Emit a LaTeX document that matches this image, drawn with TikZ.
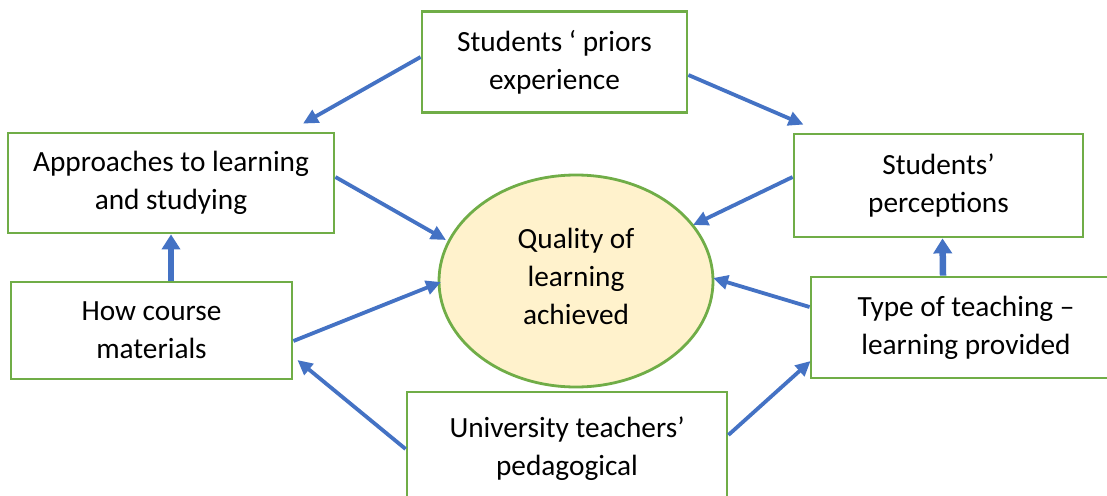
\documentclass[tikz,border=0pt]{standalone}
\usepackage{fontspec}
\setmainfont{Carlito}
\usetikzlibrary{arrows.meta,shapes.geometric,calc}
\definecolor{boxgreen}{HTML}{70AD47}
\definecolor{arrowblue}{HTML}{4472C4}
\definecolor{ellfill}{HTML}{FFF2CC}
\tikzset{
  box/.style={draw=boxgreen, line width=2.8pt, fill=white, rectangle, align=center,
    font=\fontsize{29.3}{38}\selectfont, inner sep=0pt},
  qual/.style={draw=boxgreen, line width=2.8pt, fill=ellfill, ellipse, inner sep=0pt},
  qtext/.style={align=center, font=\fontsize{29.3}{38}\selectfont, inner sep=0pt},
  conn/.style={draw=arrowblue, line width=3.8pt, -{Triangle[length=15pt,width=14pt]}},
  thick conn/.style={draw=arrowblue, line width=6.5pt, -{Triangle[length=15pt,width=18pt]}}
}
\begin{document}
\begin{tikzpicture}[x=1pt,y=-1pt]
\useasboundingbox (0,0) rectangle (1107,495);
\fill[white] (0,0) rectangle (1107,495);

\node[box, minimum width=265pt, minimum height=101pt] (top) at (554.5,62) {Students ‘ priors\\experience};
\node[box, minimum width=326pt, minimum height=100pt] (appr) at (171,183) {Approaches to learning\\and studying};
\node[box, minimum width=281pt, minimum height=97pt] (how) at (151.5,330.5) {How course\\materials};
\node[box, minimum width=289pt, minimum height=103pt] (perc) at (938.5,185.5) {Students’\\perceptions};
\node[box, minimum width=310pt, minimum height=101pt] (type) at (966,327.5) {Type of teaching –\\learning provided};
\node[box, minimum width=320pt, minimum height=114pt] (univ) at (567,449) {University teachers’\\pedagogical};
\node[qual, minimum width=274pt, minimum height=212pt] (q) at (576,281) {};
\node[qtext] (qt) at (576,276) {Quality of\\learning\\achieved};

\draw[conn] ($(top.west)+(0,-5)$) -- ($(appr.north)+(132,-8)$);
\draw[conn] ($(top.east)+(0,13)$) -- ($(perc.north)+(-135,-8)$);
\draw[conn] ($(appr.east)+(0,-6)$) -- ($(q.center)+(-130,-41)$);
\draw[conn] ($(perc.west)+(0,-8.5)$) -- ($(q.center)+(117,-56)$);
\draw[thick conn] ($(how.north)+(19.5,0)$) -- (appr.south);
\draw[thick conn] ($(type.north)+(-23,0)$) -- ($(perc.south)+(4,0)$);
\draw[conn] ($(how.east)+(0,10.5)$) -- ($(q.center)+(-135,1)$);
\draw[conn] ($(type.west)+(0,-20.5)$) -- ($(q.center)+(137,-3)$);
\draw[conn] (univ.west) -- ($(how.east)+(4,29.5)$);
\draw[conn] ($(univ.east)+(0,-14)$) -- ($(type.west)+(1,33.5)$);
\end{tikzpicture}
\end{document}
